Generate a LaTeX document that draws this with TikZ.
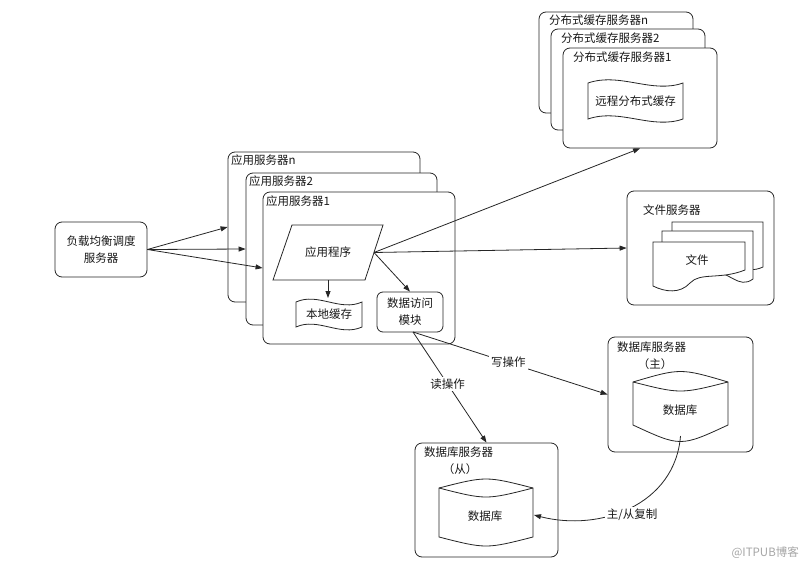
\documentclass[tikz,border=0pt]{standalone}
\usepackage{fontspec}
\setmainfont{Noto Sans CJK SC}
\usetikzlibrary{arrows.meta,calc}
\begin{document}
\begin{tikzpicture}[x=1pt,y=-1pt,
  ln/.style={draw=black!85, line width=0.8pt},
  box/.style={ln, rounded corners=7pt, fill=white, inner sep=0pt},
  txt/.style={font=\fontsize{11.5}{17}\selectfont, inner sep=0pt, text=black!90},
  arr/.style={ln, -{Triangle[length=7pt,width=5pt]}},
  lbl/.style={txt, fill=white, inner sep=2pt},
]
\fill[white] (0,0) rectangle (803,570);

% load balancer
\node[box, minimum width=92pt, minimum height=55pt] (lb) at (101,249.5) {};
\node[txt, align=center] (lbt) at (101,249.5) {负载均衡调度\\服务器};

% application servers
\node[box, minimum width=192pt, minimum height=150pt] (appn) at (324,227) {};
\node[txt, anchor=west] (appnt) at (231,160) {应用服务器n};
\node[box, minimum width=191pt, minimum height=152pt] (app2) at (341.5,249) {};
\node[txt, anchor=west] (app2t) at (249,181) {应用服务器2};
\node[box, minimum width=192pt, minimum height=152pt] (app1) at (359,268) {};
\node[txt, anchor=west] (app1t) at (266,201) {应用服务器1};

\draw[arr] (lb.east) -- (appn.west);
\draw[arr] (lb.east) -- (app2.west);
\draw[arr] (lb.east) -- (app1.west);

% application program (parallelogram)
\draw[ln, fill=white] (292,225) -- (383,225) -- (365,280) -- (273,280) -- cycle;
\node[txt] (prog) at (328,252.5) {应用程序};
\coordinate (progR) at (374,252.5);
\coordinate (progB) at (328,280);

% local cache (tape)
\draw[ln, fill=white] (296,302) .. controls (318,292) and (340,312) .. (362,302)
  -- (362,327) .. controls (340,337) and (318,317) .. (296,327) -- cycle;
\node[txt] (lc) at (329,314.5) {本地缓存};
\coordinate (lcT) at (328,298);
\draw[arr] (progB) -- (lcT);

% data access module
\node[box, rounded corners=6pt, minimum width=66pt, minimum height=40pt] (dam) at (410,312) {};
\node[txt, align=center] (damt) at (410,312) {数据访问\\模块};
\draw[arr] (progR) -- (dam.north);

% distributed cache servers
\node[box, minimum width=154pt, minimum height=101pt] (dcn) at (616,62.5) {};
\node[txt, anchor=west] (dcnt) at (549,20) {分布式缓存服务器n};
\node[box, minimum width=154pt, minimum height=101pt] (dc2) at (628,79.5) {};
\node[txt, anchor=west] (dc2t) at (561,38) {分布式缓存服务器2};
\node[box, minimum width=154pt, minimum height=100pt] (dc1) at (640,98) {};
\node[txt, anchor=west] (dc1t) at (573,57) {分布式缓存服务器1};
\draw[ln, fill=white] (588,83) .. controls (620,72) and (652,94) .. (683,83)
  -- (683,119) .. controls (652,130) and (620,108) .. (588,119) -- cycle;
\node[txt] (rc) at (635.5,101) {远程分布式缓存};
\draw[arr] (progR) -- (dc1.south);

% file server
\node[box, minimum width=147pt, minimum height=114pt] (fs) at (700.5,248) {};
\node[txt, anchor=west] (fst) at (643,210) {文件服务器};
\draw[ln, fill=white] (672,222) -- (763,222) -- (763,267)
  .. controls (745,275) and (740,262) .. (720,262) -- (720,250) -- (672,250) -- cycle;
\draw[ln, fill=white] (662,231) -- (753,231) -- (753,279)
  .. controls (738,290) and (730,270) .. (710,272) -- (710,260) -- (662,260) -- cycle;
\draw[ln, fill=white] (653,242) -- (745,242) -- (745,270)
  .. controls (720,280) and (700,272) .. (690,283) .. controls (680,294) and (665,292) .. (653,286) -- cycle;
\node[txt] (file) at (697,260) {文件};
\draw[arr] (progR) -- (fs.west);

% master database server
\node[box, minimum width=145pt, minimum height=115pt] (dbm) at (680.5,394.5) {};
\node[txt, anchor=west] (dbmt) at (617,347) {数据库服务器};
\node[txt] (dbmt2) at (655,364) {（主）};
\draw[ln, fill=white] (633,382) .. controls (680.5,368) .. (728,382)
  -- (728,425) .. controls (680.5,447) .. (633,425) -- cycle;
\draw[ln] (633,382) .. controls (680.5,394) .. (728,382);
\node[txt] (dbmdb) at (680,410) {数据库};
\coordinate (dbmB) at (680.5,436);

% slave database server
\node[box, minimum width=143pt, minimum height=114pt] (dbs) at (486.5,500) {};
\node[txt, anchor=west] (dbst) at (424,452) {数据库服务器};
\node[txt] (dbst2) at (460,469) {（从）};
\draw[ln, fill=white] (439,488) .. controls (486,476) .. (533,488)
  -- (533,537) .. controls (486,549) .. (439,537) -- cycle;
\draw[ln] (439,488) .. controls (486,500) .. (533,488);
\node[txt] (dbsdb) at (485,516) {数据库};
\coordinate (dbsR) at (534,515);

% read / write
\coordinate (damS) at (413,332);
\draw[arr] (damS) -- (dbm.west) node[lbl, pos=0.49] (wr) {写操作};
\draw[arr] (damS) -- (dbs.north) node[lbl, pos=0.47] (rd) {读操作};

% replication
\draw[arr] (dbmB) .. controls (675,505) and (600,532) .. (dbsR);
\node[lbl] (rep) at (632,515) {主/从复制};

% watermark
\node[txt, text=black!35, anchor=east] (wm) at (799,553) {@ITPUB博客};
\end{tikzpicture}
\end{document}
